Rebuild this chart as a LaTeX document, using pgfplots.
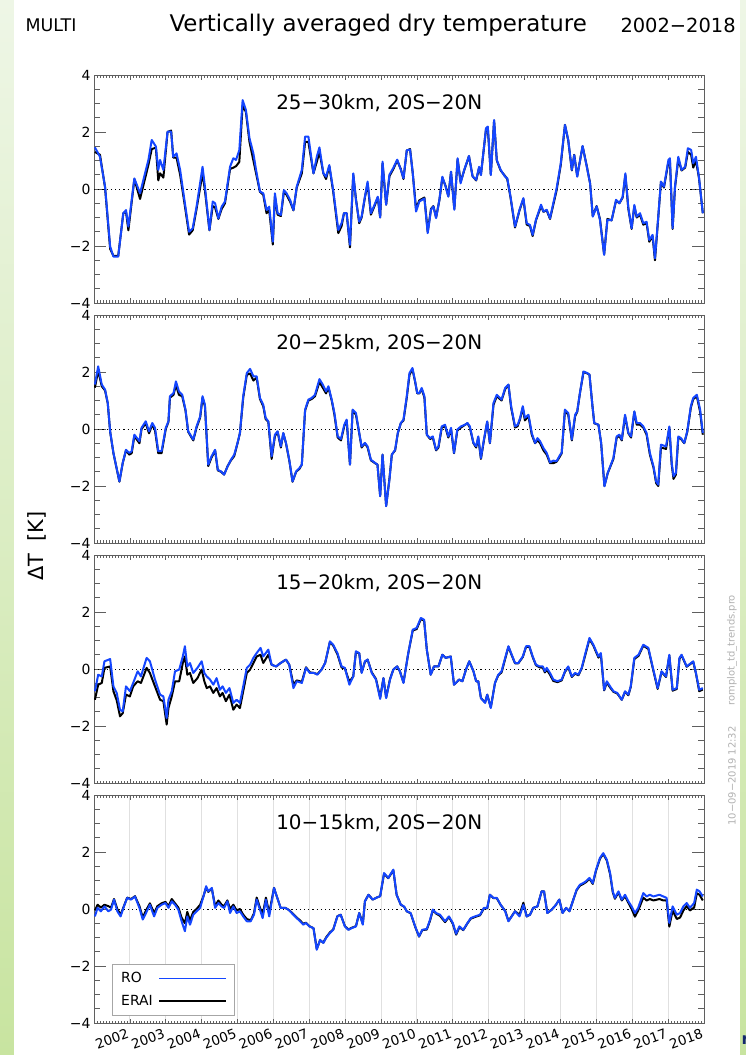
\documentclass[border=0pt]{standalone}
\usepackage{pgfplots}
\pgfplotsset{compat=1.18}
\usepackage{pgfplotstable}
\usepackage{fontspec}
\setmainfont{DejaVu Sans}
\definecolor{roblue}{RGB}{20,70,255}
\definecolor{axgray}{RGB}{95,95,95}
\definecolor{bgtop}{RGB}{238,246,230}
\definecolor{bgbot}{RGB}{200,228,160}

\pgfplotstableread{
m ro erai
0.3 1.46 1.30
2.0 1.13 1.20
3.7 0.08 0.05
5.4 -2.02 -2.10
6.5 -2.37 -2.35
8.1 -2.37 -2.35
9.8 -0.85 -0.85
10.7 -0.74 -0.80
11.5 -1.32 -1.45
13.5 0.37 0.35
15.4 -0.15 -0.35
18.2 1.02 0.85
19.3 1.72 1.40
20.7 1.49 1.45
21.5 0.67 0.30
22.1 1.02 0.55
23.2 0.67 0.40
24.6 2.01 2.00
25.8 2.01 2.05
26.5 1.13 1.10
27.6 1.25 1.10
28.8 0.67 0.50
30.4 -0.50 -0.60
31.8 -1.50 -1.60
33.0 -1.38 -1.45
34.3 -0.62 -0.70
36.3 0.78 0.55
37.1 0.08 -0.05
38.6 -1.44 -1.45
39.7 -0.44 -0.60
40.5 -0.50 -0.65
41.6 -1.03 -1.05
42.7 -0.62 -0.70
43.8 -0.44 -0.50
45.5 0.78 0.70
46.6 1.08 0.75
47.5 1.02 0.80
48.6 1.37 0.95
49.7 3.12 2.95
50.8 2.77 2.70
52.0 1.78 1.65
53.3 1.25 1.00
54.2 0.67 0.55
55.5 -0.09 -0.10
56.6 -0.15 -0.20
57.7 -0.74 -0.85
58.6 -0.62 -0.75
59.8 -1.85 -1.95
60.5 -0.15 -0.25
61.4 -0.85 -0.90
62.5 -0.91 -0.95
63.5 -0.04 -0.10
64.4 -0.15 -0.20
65.6 -0.39 -0.45
66.7 -0.74 -0.75
67.8 0.08 0.05
69.5 0.67 0.55
70.6 1.84 1.65
71.7 1.84 1.65
73.4 0.55 0.55
74.5 1.13 0.95
75.4 1.46 1.30
76.7 0.55 0.55
77.6 0.43 0.35
78.7 0.84 0.80
80.0 -0.04 -0.10
81.7 -1.44 -1.55
82.8 -1.20 -1.30
83.6 -0.85 -0.85
84.5 -0.85 -0.85
85.6 -1.96 -2.05
86.7 0.55 0.50
87.6 -0.39 -0.35
88.7 -1.15 -1.20
89.5 -0.97 -1.00
90.6 -0.27 -0.30
91.5 0.26 0.20
92.6 -0.85 -0.90
93.8 -0.56 -0.60
94.9 -0.27 -0.30
95.7 -1.00 -1.00
96.5 0.96 0.90
97.7 -0.55 -0.55
98.8 0.50 0.45
100.1 0.74 0.70
101.4 1.03 1.00
102.6 0.68 0.70
103.5 0.38 0.35
104.6 1.36 1.35
105.7 1.38 1.40
106.6 0.56 0.55
107.7 -0.79 -0.70
108.8 -0.44 -0.40
110.5 -0.33 -0.30
111.6 -1.55 -1.50
112.7 -0.73 -0.70
113.5 -0.61 -0.60
114.4 -1.02 -1.00
115.5 -0.38 -0.40
116.5 0.43 0.40
117.6 0.08 0.10
118.5 -0.27 -0.25
119.4 0.61 0.60
120.5 -0.73 -0.70
121.6 1.08 1.05
122.6 0.20 0.25
123.8 0.67 0.65
125.4 1.16 1.15
126.6 0.44 0.45
127.8 0.32 0.30
128.8 0.78 0.75
129.4 0.49 0.50
131.1 2.13 2.10
131.7 2.19 2.15
132.7 0.49 0.50
133.8 2.42 2.40
134.7 1.02 1.00
136.0 0.67 0.65
137.5 0.43 0.45
138.2 0.38 0.35
139.3 -0.27 -0.30
140.8 -1.32 -1.35
142.3 -0.73 -0.75
143.6 -0.32 -0.35
144.7 -1.20 -1.25
145.8 -1.26 -1.30
146.7 -1.61 -1.65
147.8 -1.08 -1.10
149.5 -0.55 -0.60
150.3 -0.79 -0.80
151.4 -0.73 -0.75
152.5 -1.03 -1.05
153.6 -0.50 -0.55
154.7 0.02 -0.05
156.1 0.90 0.85
157.5 2.25 2.25
158.6 1.72 1.70
159.8 0.67 0.65
160.6 1.19 1.20
161.6 0.43 0.45
163.4 1.51 1.50
164.8 0.78 0.80
165.9 0.20 0.20
166.8 -0.97 -0.95
168.1 -0.61 -0.60
169.2 -1.08 -1.05
170.6 -2.31 -2.30
171.7 -1.08 -1.05
173.1 -1.10 -1.10
174.6 -0.38 -0.40
175.7 -0.50 -0.50
176.8 -0.27 -0.30
177.7 0.55 0.50
178.7 -0.67 -0.70
179.8 -1.38 -1.40
180.7 -0.56 -0.60
181.5 -0.97 -1.00
182.6 -0.85 -0.90
183.7 -1.20 -1.25
184.8 -1.15 -1.20
185.7 -1.79 -1.85
186.8 -1.61 -1.65
187.6 -2.43 -2.50
188.7 -0.97 -1.00
189.6 0.26 0.25
190.6 0.08 0.05
192.1 1.02 0.95
192.6 1.08 1.00
193.5 -1.38 -1.40
194.3 0.08 0.05
195.4 1.13 1.05
196.5 0.67 0.65
197.7 0.78 0.75
198.6 1.43 1.30
199.7 1.37 1.20
200.4 0.90 0.75
201.3 1.13 1.00
202.3 0.43 0.40
203.6 -0.85 -0.85
}\tA

\pgfplotstableread{
m ro erai
0.3 1.56 1.45
1.4 2.20 2.05
2.6 1.56 1.50
3.7 1.38 1.35
4.6 0.91 0.90
5.4 -0.08 -0.10
6.5 -0.84 -0.85
8.5 -1.84 -1.85
9.6 -1.19 -1.20
10.7 -0.73 -0.75
11.8 -0.84 -0.90
12.6 -0.78 -0.85
13.5 -0.20 -0.25
15.2 -0.43 -0.50
15.9 0.04 0.00
17.3 0.27 0.20
18.4 -0.08 -0.15
19.5 0.21 0.15
20.4 0.04 -0.05
21.5 -0.78 -0.85
22.6 -0.78 -0.85
24.0 0.04 0.00
24.9 0.27 0.25
25.4 1.15 1.10
26.6 1.26 1.20
27.4 1.67 1.55
28.4 1.32 1.20
29.5 1.20 1.15
30.6 0.68 0.65
31.5 -0.08 -0.10
33.2 -0.37 -0.40
34.3 0.09 0.05
35.5 0.44 0.40
36.3 1.15 1.10
37.1 0.85 0.80
38.2 -1.25 -1.30
39.3 -0.96 -1.00
40.5 -0.73 -0.75
41.4 -1.43 -1.45
42.5 -1.49 -1.50
43.5 -1.60 -1.60
44.7 -1.31 -1.30
45.8 -1.08 -1.10
46.9 -0.90 -0.95
48.0 -0.49 -0.50
48.8 -0.14 -0.15
49.9 1.15 1.10
51.1 1.96 1.90
52.2 2.11 1.95
53.3 1.85 1.70
54.4 1.85 1.80
55.5 1.09 1.05
56.6 0.85 0.80
57.4 0.39 0.35
58.3 0.27 0.25
59.4 -0.96 -1.05
60.5 -0.20 -0.25
61.4 -0.08 -0.10
62.5 -0.61 -0.65
63.3 -0.14 -0.15
64.2 -0.49 -0.50
65.3 -1.08 -1.10
66.4 -1.84 -1.85
67.6 -1.49 -1.50
68.7 -1.37 -1.40
69.5 -1.25 -1.25
70.6 0.68 0.65
71.7 1.03 1.00
72.8 1.09 1.05
73.9 1.20 1.15
75.4 1.75 1.65
76.5 1.56 1.45
77.6 1.32 1.25
78.4 1.50 1.45
79.5 1.03 1.00
80.4 0.56 0.50
81.5 -0.26 -0.30
82.6 -0.35 -0.40
83.7 0.15 0.10
84.5 0.33 0.30
85.6 -1.25 -1.25
86.5 0.68 0.65
87.6 0.56 0.50
88.7 -0.14 -0.15
89.5 -0.61 -0.65
90.6 -0.49 -0.50
91.5 -0.61 -0.65
92.6 -1.08 -1.10
94.0 -1.19 -1.20
94.8 -1.25 -1.25
95.7 -2.36 -2.35
96.5 -0.90 -0.90
97.7 -2.71 -2.70
98.8 -1.78 -1.75
99.6 -0.90 -0.90
100.7 -0.73 -0.75
101.6 -0.14 -0.15
102.6 0.21 0.20
103.5 0.33 0.30
104.6 1.15 1.10
105.5 1.96 1.90
106.5 2.14 2.10
107.4 1.67 1.65
108.1 1.26 1.25
108.8 1.26 1.25
109.6 1.44 1.40
110.5 1.15 1.10
111.3 -0.20 -0.20
112.4 -0.32 -0.35
113.3 -0.26 -0.30
114.4 -0.73 -0.75
115.2 -0.61 -0.65
116.3 0.09 0.05
117.4 0.15 0.10
118.5 -0.26 -0.30
119.4 0.04 0.00
120.4 -0.84 -0.85
121.5 -0.02 -0.05
122.7 0.09 0.05
124.1 0.15 0.15
124.9 0.21 0.20
125.7 0.09 0.05
126.9 -0.49 -0.50
127.8 -0.61 -0.65
128.5 -0.26 -0.30
129.4 -1.02 -1.05
130.4 -0.37 -0.40
131.5 0.27 0.25
132.4 -0.49 -0.50
133.6 0.91 0.85
134.7 1.20 1.15
136.3 1.03 1.00
137.5 1.44 1.40
138.6 1.56 1.55
139.5 0.80 0.75
140.8 0.09 0.05
141.7 0.15 0.10
142.5 0.39 0.35
143.4 0.80 0.75
144.1 0.39 0.30
145.3 0.50 0.45
146.4 -0.14 -0.20
147.5 -0.49 -0.50
148.3 -0.32 -0.40
149.2 -0.43 -0.50
150.3 -0.67 -0.75
151.4 -0.84 -0.90
152.5 -1.17 -1.20
153.6 -1.11 -1.20
154.7 -1.13 -1.15
155.9 -0.90 -0.95
156.4 -0.84 -0.85
157.5 0.68 0.65
158.6 0.56 0.50
159.8 -0.37 -0.40
160.9 0.50 0.45
161.6 0.62 0.60
162.5 1.26 1.25
163.7 2.02 2.00
165.0 1.96 1.95
165.7 1.91 1.90
166.7 0.80 0.80
167.3 0.21 0.20
168.7 0.15 0.15
169.6 -0.49 -0.50
170.7 -2.01 -2.00
171.8 -1.54 -1.55
173.7 -1.02 -1.05
174.8 -0.26 -0.30
175.7 -0.20 -0.25
176.5 -0.37 -0.40
177.6 0.50 0.45
178.7 -0.14 -0.15
179.6 -0.26 -0.30
180.7 0.62 0.60
181.5 0.21 0.15
182.6 0.21 0.15
183.7 0.09 0.05
184.8 -0.14 -0.20
185.9 -0.84 -0.90
187.1 -1.31 -1.35
188.0 -1.84 -1.90
188.7 -1.95 -2.00
189.6 -0.55 -0.65
191.3 -0.61 -0.70
192.4 0.09 0.05
193.2 -1.19 -1.25
193.8 -1.66 -1.75
194.6 -1.54 -1.60
195.4 -0.26 -0.30
196.3 -0.32 -0.35
197.4 -0.49 -0.50
198.4 -0.08 -0.10
199.6 0.80 0.75
200.4 1.09 1.05
201.6 1.20 1.15
202.7 0.68 0.60
203.6 -0.14 -0.20
}\tB

\pgfplotstableread{
m ro erai
0.3 -0.78 -1.08
1.4 -0.20 -0.55
2.6 -0.26 -0.49
3.5 0.27 0.04
5.4 0.35 0.09
6.5 -0.61 -0.78
7.6 -0.84 -1.10
8.7 -1.43 -1.66
9.6 -1.49 -1.55
10.7 -0.61 -0.90
12.0 -0.78 -0.96
13.1 -0.49 -0.61
14.6 -0.08 -0.43
15.7 -0.26 -0.49
17.6 0.39 0.04
18.7 0.27 -0.14
20.4 -0.37 -0.61
22.1 -0.90 -1.08
23.2 -0.96 -1.13
24.3 -1.72 -1.95
24.9 -1.08 -1.37
26.0 -0.78 -0.96
27.1 -0.08 -0.43
28.5 -0.02 -0.43
29.7 0.44 0.21
30.4 0.80 0.44
31.2 0.09 -0.20
32.1 0.21 -0.14
33.2 -0.14 -0.49
34.6 0.04 -0.32
36.0 0.27 -0.02
36.9 -0.14 -0.43
37.7 -0.26 -0.67
38.8 -0.37 -0.61
39.9 -0.55 -0.84
41.0 -0.32 -0.67
42.1 -0.73 -0.96
43.0 -0.61 -0.84
44.1 -0.84 -1.13
45.3 -0.67 -0.90
46.6 -1.19 -1.43
47.7 -1.08 -1.25
48.8 -1.19 -1.37
49.9 -0.61 -0.78
51.1 0.04 -0.14
52.2 0.15 -0.02
53.3 0.39 0.21
54.4 0.56 0.44
55.7 0.74 0.50
56.6 0.44 0.21
58.3 0.68 0.50
59.4 0.15 0.15
60.9 0.09 0.09
62.4 0.21 0.21
64.2 0.33 0.33
65.3 0.15 0.15
66.7 -0.67 -0.55
67.8 -0.43 -0.40
69.5 -0.49 -0.45
70.9 0.04 0.06
72.2 -0.14 -0.12
73.6 -0.14 -0.14
74.7 -0.20 -0.18
76.1 -0.02 -0.02
77.3 0.21 0.21
78.9 0.97 0.95
80.0 0.85 0.82
81.4 0.56 0.52
82.8 0.09 0.05
83.9 0.04 0.02
85.4 -0.55 -0.45
86.7 -0.26 -0.26
87.6 0.62 0.60
88.7 0.56 0.55
89.5 -0.14 -0.12
90.6 0.27 0.25
91.5 0.33 0.33
92.9 -0.14 -0.12
94.3 -0.37 -0.35
95.7 -1.05 -1.00
96.8 -0.32 -0.32
97.7 -1.02 -1.00
99.0 -0.37 -0.35
100.1 -0.02 -0.02
101.4 0.09 0.09
102.3 -0.08 -0.08
103.5 -0.49 -0.47
105.1 0.56 0.55
106.6 1.38 1.35
107.9 1.44 1.40
109.3 1.79 1.75
110.4 1.73 1.70
111.3 0.68 0.68
112.6 -0.20 -0.20
113.7 0.09 0.09
115.2 0.09 0.09
116.5 0.50 0.50
117.6 0.39 0.39
119.3 0.44 0.44
120.4 -0.55 -0.55
122.1 -0.37 -0.37
123.2 -0.43 -0.43
124.4 -0.02 -0.02
125.5 0.27 0.27
126.9 -0.08 -0.08
127.8 -0.43 -0.43
128.5 -0.43 -0.43
129.4 -1.02 -1.02
130.8 -1.19 -1.17
131.5 -0.90 -0.90
132.7 -1.37 -1.35
134.1 -0.49 -0.49
135.2 -0.20 -0.22
136.3 -0.08 -0.12
137.5 0.39 0.35
138.6 0.80 0.78
139.7 0.50 0.48
140.8 0.21 0.20
141.9 0.21 0.20
143.4 0.44 0.42
144.5 0.80 0.78
145.6 0.80 0.78
146.7 0.44 0.42
147.8 0.15 0.13
149.0 0.09 0.06
150.1 0.09 0.04
150.8 -0.08 -0.12
151.4 0.04 -0.02
152.5 -0.14 -0.20
153.6 -0.37 -0.42
155.0 -0.43 -0.46
156.4 -0.37 -0.40
157.5 -0.08 -0.10
158.6 0.09 0.06
159.8 -0.26 -0.28
160.9 -0.14 -0.16
162.0 -0.20 -0.22
163.1 0.04 0.02
164.2 0.50 0.45
165.7 1.09 1.05
167.0 0.85 0.82
168.7 0.44 0.40
169.5 0.56 0.52
170.6 -0.73 -0.75
171.5 -0.43 -0.48
172.6 -0.61 -0.65
173.7 -0.78 -0.80
175.0 -0.84 -0.86
176.5 -1.08 -1.08
177.6 -0.78 -0.80
178.7 -0.90 -0.92
179.5 -0.61 -0.63
180.7 0.39 0.35
182.1 0.50 0.46
183.7 0.85 0.82
185.4 0.74 0.70
186.8 0.09 0.06
188.5 -0.67 -0.70
189.8 -0.08 -0.10
191.3 -0.26 -0.28
192.4 0.50 0.48
193.5 -0.73 -0.76
194.9 -0.67 -0.70
195.8 0.39 0.36
196.5 0.50 0.48
198.2 0.09 0.08
200.4 0.27 0.25
201.3 -0.14 -0.15
202.4 -0.73 -0.78
203.6 -0.67 -0.72
}\tC

\pgfplotstableread{
m ro erai
0.3 -0.26 -0.05
1.2 0.04 0.15
2.3 -0.08 0.05
3.5 0.09 0.15
4.8 -0.08 0.10
5.7 -0.02 0.05
6.7 0.33 0.35
7.8 -0.08 0.00
8.9 -0.26 -0.20
10.0 0.09 0.10
11.1 0.39 0.40
12.4 0.33 0.35
13.7 0.44 0.45
15.2 0.04 0.10
16.3 -0.37 -0.30
17.4 -0.14 -0.05
18.7 0.15 0.20
20.1 -0.26 -0.15
21.2 0.04 0.10
22.6 0.15 0.20
23.9 0.21 0.25
24.9 0.04 0.10
26.0 0.27 0.35
27.1 0.15 0.20
28.2 -0.02 0.05
29.3 -0.43 -0.30
30.4 -0.78 -0.50
31.2 -0.26 -0.10
32.1 -0.55 -0.40
33.2 -0.20 -0.10
34.3 -0.08 0.00
35.5 0.04 0.15
36.6 0.44 0.45
37.5 0.80 0.75
38.2 0.62 0.60
39.4 0.74 0.72
40.5 0.04 0.10
41.6 0.21 0.30
42.7 0.09 0.15
43.5 0.04 0.10
44.6 0.27 0.30
45.5 -0.14 0.00
46.6 0.09 0.15
47.7 -0.14 -0.05
48.8 -0.08 0.00
49.9 -0.26 -0.20
51.1 -0.43 -0.35
52.4 -0.43 -0.40
53.5 -0.20 -0.15
54.4 0.33 0.40
55.5 -0.02 0.05
56.4 -0.32 -0.20
57.5 0.33 0.40
58.6 -0.26 -0.15
60.2 0.74 0.74
61.3 0.39 0.39
62.4 0.04 0.04
63.9 0.04 0.04
65.0 -0.02 -0.02
66.1 -0.14 -0.12
67.8 -0.32 -0.30
68.9 -0.43 -0.40
70.0 -0.55 -0.52
70.9 -0.49 -0.48
72.0 -0.61 -0.60
73.4 -0.67 -0.67
74.5 -1.43 -1.40
75.6 -1.08 -1.10
76.7 -1.19 -1.18
77.6 -1.02 -1.00
78.9 -0.84 -0.82
80.0 -0.73 -0.72
81.4 -0.26 -0.25
82.5 -0.20 -0.20
83.9 -0.61 -0.60
85.1 -0.73 -0.72
86.2 -0.67 -0.66
87.6 -0.61 -0.60
88.7 -0.14 -0.14
89.9 -0.55 -0.52
90.6 0.27 0.27
91.8 0.50 0.50
93.2 0.33 0.33
94.3 0.39 0.39
95.7 0.45 0.45
97.0 1.26 1.24
98.4 1.09 1.08
100.1 1.38 1.36
101.2 0.50 0.50
102.6 0.15 0.15
103.7 0.09 0.08
104.6 -0.08 -0.08
105.9 -0.14 -0.15
107.4 -0.61 -0.62
108.7 -0.96 -0.97
109.8 -0.73 -0.74
111.3 -0.70 -0.72
112.4 -0.37 -0.40
113.3 -0.02 -0.05
114.4 -0.14 -0.16
115.7 -0.20 -0.24
117.4 -0.43 -0.46
118.7 -0.26 -0.28
120.0 -0.49 -0.52
121.1 -0.87 -0.90
122.2 -0.61 -0.64
123.5 -0.73 -0.74
124.9 -0.49 -0.50
126.0 -0.32 -0.34
127.4 -0.26 -0.28
129.1 -0.20 -0.22
130.4 0.04 0.02
131.5 0.04 0.02
132.4 0.50 0.50
133.6 0.39 0.38
134.7 0.39 0.38
136.0 0.15 0.14
137.5 -0.08 -0.06
138.6 -0.43 -0.42
139.7 -0.26 -0.25
140.8 -0.08 -0.08
142.3 -0.26 -0.20
143.6 0.15 0.22
144.7 -0.26 -0.26
145.8 -0.20 -0.20
146.9 0.04 0.04
148.3 0.09 0.09
149.7 0.62 0.62
150.5 0.62 0.62
151.6 -0.14 -0.14
153.1 -0.02 -0.02
154.5 0.15 0.15
155.6 0.33 0.33
156.7 -0.14 -0.14
157.9 0.04 0.04
159.0 -0.08 -0.08
160.3 0.33 0.33
161.4 0.68 0.66
162.5 0.85 0.82
163.6 0.91 0.88
164.5 0.97 0.94
165.7 1.09 1.06
166.8 0.91 0.88
167.9 1.38 1.35
169.2 1.79 1.76
170.3 1.96 1.93
171.5 1.73 1.70
172.6 1.26 1.22
173.5 0.62 0.58
174.2 0.39 0.36
175.4 0.62 0.58
176.5 0.33 0.30
177.6 0.50 0.45
178.7 0.27 0.22
179.8 0.09 0.00
180.9 -0.14 -0.27
182.0 0.04 -0.05
183.7 0.56 0.40
184.8 0.44 0.30
185.9 0.50 0.35
187.1 0.44 0.30
189.1 0.50 0.35
190.4 0.44 0.30
191.5 0.39 0.30
192.4 -0.49 -0.62
193.5 0.09 -0.05
194.9 -0.20 -0.35
196.0 -0.14 -0.30
197.1 0.09 -0.05
198.2 0.21 0.10
199.3 0.04 -0.05
200.7 0.21 0.05
201.6 0.68 0.55
202.5 0.62 0.50
203.6 0.44 0.30
}\tD

\pgfplotsset{
  basepanel/.style={width=610bp, height=228bp, scale only axis,
    xmin=0, xmax=204, ymin=-4, ymax=4, anchor=north west,
    axis line style={draw=axgray, line width=0.9bp},
    tick style={draw=axgray, line width=0.7bp}, tick align=inside},
  xpanel/.style={basepanel, ytick=\empty, xtick={0,12,...,204},
    minor x tick num=11, major tick length=4.5bp, minor tick length=2.5bp,
    xticklabels={}},
  ypanel/.style={basepanel, xtick=\empty, ytick={-4,-2,0,2,4},
    yticklabels={−4,−2,0,2,4}, minor y tick num=3,
    major tick length=12bp, minor tick length=6bp,
    yticklabel style={font=\fontsize{14}{14}\selectfont, text=black}},
  datro/.style={roblue, line width=2bp, line join=round},
  daterai/.style={black, line width=2bp, line join=round},
  zeroline/.style={black, line width=0.8bp, dash pattern=on 1.2bp off 3bp, forget plot},
}
\tikzset{plabel/.style={anchor=west, font=\fontsize{20}{20}\selectfont}}

\begin{document}
\begin{tikzpicture}
\useasboundingbox (0,0) rectangle (746bp,-1055bp);
\shade[top color=bgtop, bottom color=bgbot] (0,0) rectangle (746bp,-1055bp);
\fill[white] (14bp,0) rectangle (740bp,-1055bp);

\node[anchor=west, font=\fontsize{17.5}{17.5}\selectfont] at (22bp,-25bp) {MULTI};
\node[anchor=west, font=\fontsize{23}{23}\selectfont] at (166bp,-25bp) {Vertically averaged dry temperature};
\node[anchor=west, font=\fontsize{19.5}{19.5}\selectfont] at (617bp,-25bp) {2002−2018};
\node[rotate=90, font=\fontsize{21}{21}\selectfont] at (37bp,-546bp) {ΔT\hspace{0.6em}[K]};
\node[rotate=90, text=black!30, font=\fontsize{10}{10}\selectfont] at (732bp,-650bp) {romplot\_td\_trends.pro};
\node[rotate=90, text=black!30, font=\fontsize{10}{10}\selectfont] at (732bp,-776bp) {10−09−2019 12:32};
\node[anchor=west, text={rgb,255:red,20;green,40;blue,110}, font=\bfseries\fontsize{16}{16}\selectfont] at (738bp,-1040bp) {rs};

% ---- panel 1
\begin{axis}[xpanel, at={(94bp,-75bp)}]
\end{axis}
\begin{axis}[ypanel, at={(94bp,-75bp)}]
\addplot[zeroline] coordinates {(0,0) (204,0)};
\addplot[daterai] table[x=m, y=erai] {\tA};
\addplot[datro] table[x=m, y=ro] {\tA};
\node[plabel] at (rel axis cs:0.293,0.877) {25−30km, 20S−20N};
\end{axis}

% ---- panel 2
\begin{axis}[xpanel, at={(94bp,-315bp)}]
\end{axis}
\begin{axis}[ypanel, at={(94bp,-315bp)}]
\addplot[zeroline] coordinates {(0,0) (204,0)};
\addplot[daterai] table[x=m, y=erai] {\tB};
\addplot[datro] table[x=m, y=ro] {\tB};
\node[plabel] at (rel axis cs:0.293,0.877) {20−25km, 20S−20N};
\end{axis}

% ---- panel 3
\begin{axis}[xpanel, at={(94bp,-555bp)}]
\end{axis}
\begin{axis}[ypanel, at={(94bp,-555bp)}]
\addplot[zeroline] coordinates {(0,0) (204,0)};
\addplot[daterai] table[x=m, y=erai] {\tC};
\addplot[datro] table[x=m, y=ro] {\tC};
\node[plabel] at (rel axis cs:0.293,0.877) {15−20km, 20S−20N};
\end{axis}

% ---- panel 4
\begin{axis}[xpanel, at={(94bp,-795bp)},
  xmajorgrids, major grid style={draw=black!12, line width=0.9bp},
  xticklabels={{},2002,2003,2004,2005,2006,2007,2008,2009,2010,2011,2012,2013,2014,2015,2016,2017,2018},
  xticklabel style={rotate=20, anchor=north east, font=\fontsize{13.5}{13.5}\selectfont, text=black, xshift=-1.5bp}]
\end{axis}
\begin{axis}[ypanel, at={(94bp,-795bp)},
  legend style={at={(0.0295,0.035)}, anchor=south west, draw=black!35, fill=white,
    font=\fontsize{14}{14}\selectfont, inner xsep=7bp, inner ysep=6bp, row sep=7bp,
    column sep=4bp},
  legend cell align=left, legend plot pos=right, reverse legend,
  legend image code/.code={\draw[#1, line width=1.1bp] (0bp,0bp) -- (67bp,0bp);}]
\addplot[zeroline] coordinates {(0,0) (204,0)};
\addplot[daterai] table[x=m, y=erai] {\tD};
\addlegendentry{ERAI}
\addplot[datro] table[x=m, y=ro] {\tD};
\addlegendentry{RO}
\node[plabel] at (rel axis cs:0.293,0.877) {10−15km, 20S−20N};
\end{axis}
\end{tikzpicture}
\end{document}
